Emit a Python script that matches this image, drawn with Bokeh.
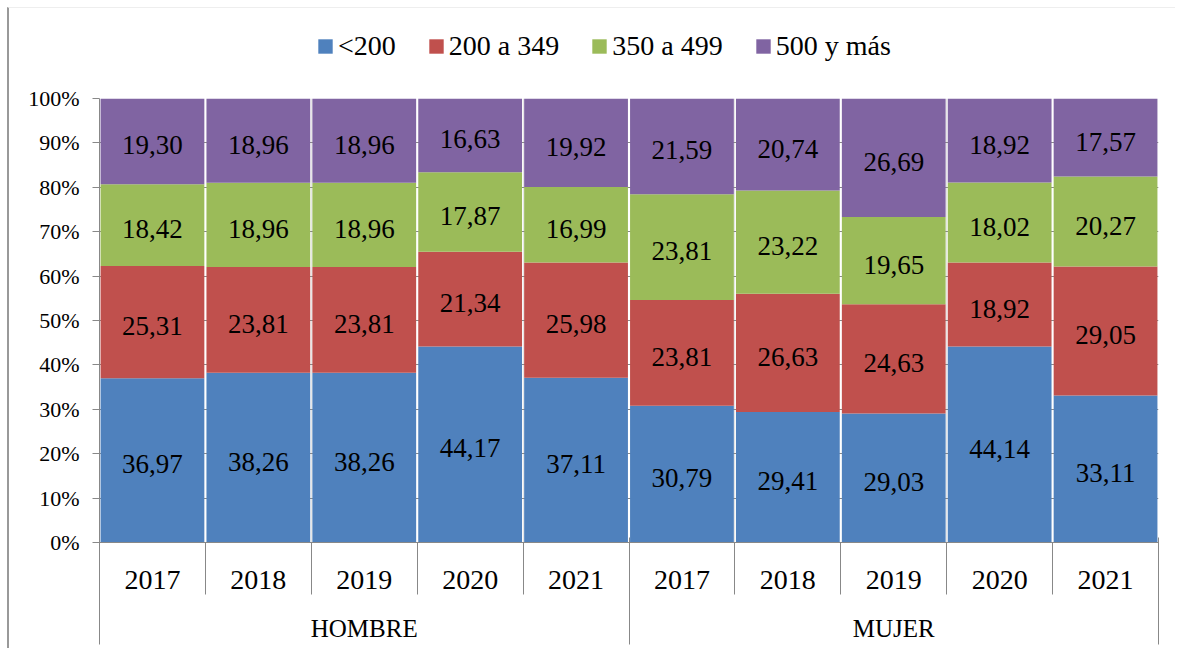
from bokeh.plotting import figure
from bokeh.layouts import column
from bokeh.models import (Range1d, FixedTicker, LinearAxis, Legend, LegendItem,
                          PrintfTickFormatter, ColumnDataSource, Grid)
from bokeh.core.properties import value
from bokeh.embed import file_html
from bokeh.resources import INLINE

# ---------------- data ----------------
groups = ["HOMBRE", "MUJER"]
years = ["2017", "2018", "2019", "2020", "2021"]
series = ["<200", "200 a 349", "350 a 499", "500 y más"]
colors = ["#4F81BD", "#C0504D", "#9BBB59", "#8064A2"]

lt200 = [36.97, 38.26, 38.26, 44.17, 37.11, 30.79, 29.41, 29.03, 44.14, 33.11]
r200_349 = [25.31, 23.81, 23.81, 21.34, 25.98, 23.81, 26.63, 24.63, 18.92, 29.05]
r350_499 = [18.42, 18.96, 18.96, 17.87, 16.99, 23.81, 23.22, 19.65, 18.02, 20.27]
r500 = [19.30, 18.96, 18.96, 16.63, 19.92, 21.59, 20.74, 26.69, 18.92, 17.57]

y_ticks = [0, 10, 20, 30, 40, 50, 60, 70, 80, 90, 100]

# ---------------- derived ----------------
values = [lt200, r200_349, r350_499, r500]
keys = ["s0", "s1", "s2", "s3"]
n = len(groups) * len(years)
xs = [i + 0.5 for i in range(n)]
year_labels = [y for g in groups for y in years]
bounds = list(range(n + 1))
group_centers = [g * len(years) + len(years) / 2 for g in range(len(groups))]
group_bounds = [g * len(years) for g in range(len(groups) + 1)]

data = {"x": xs}
for k, v in zip(keys, values):
    data[k] = v
source = ColumnDataSource(data)

lx, ly, lt = [], [], []
for i in range(n):
    bottom = 0.0
    for v in values:
        lx.append(xs[i])
        ly.append(bottom + v[i] / 2)
        lt.append(f"{v[i]:.2f}".replace(".", ","))
        bottom += v[i]
label_source = ColumnDataSource(dict(x=lx, y=ly, t=lt))

FONT = "Liberation Serif"
GRAY = "#888888"
W = 1166
TOP_H = 76
BL, BR = 90, 17

# ---------------- legend strip (bars kept far below the view; only the legend shows) ----------------
top = figure(width=W, height=TOP_H, output_backend="svg", toolbar_location=None,
             x_axis_location=None, y_axis_location=None,
             min_border_left=BL, min_border_right=BR, min_border_top=0, min_border_bottom=0,
             x_range=Range1d(0, n), y_range=Range1d(1000, 1100))
top.outline_line_color = None
top.xgrid.visible = False
top.ygrid.visible = False
legend_r = top.vbar_stack(keys, x="x", width=0.98, color=colors, line_color=None, source=source)
legend = Legend(items=[LegendItem(label=s, renderers=[r]) for s, r in zip(series, legend_r)],
                orientation="horizontal", location=(217, 22),
                glyph_width=18, glyph_height=18, label_standoff=4, spacing=31,
                padding=0, margin=0, border_line_color=None, background_fill_alpha=0,
                label_text_font=FONT, label_text_font_size="28px", label_text_color="black")
top.add_layout(legend, "center")

# ---------------- main chart ----------------
p = figure(width=W, height=640 - TOP_H, x_range=Range1d(0, n), y_range=Range1d(0, 100),
           output_backend="svg", toolbar_location=None,
           x_axis_location=None, y_axis_location=None,
           min_border_left=BL, min_border_right=BR, min_border_top=14, min_border_bottom=106)
p.outline_line_color = None
p.background_fill_color = "white"

yticker = FixedTicker(ticks=y_ticks)
yaxis = LinearAxis(ticker=yticker, formatter=PrintfTickFormatter(format="%d%%"),
                   axis_line_color=GRAY, major_tick_line_color=GRAY,
                   major_tick_out=7, major_tick_in=0, minor_tick_line_color=None,
                   major_label_standoff=13,
                   major_label_text_font=FONT, major_label_text_font_size="22px",
                   major_label_text_color="black")
p.add_layout(yaxis, "left")
p.add_layout(Grid(dimension=1, ticker=yticker, grid_line_color=GRAY, grid_line_width=1))

p.vbar_stack(keys, x="x", width=0.98, color=colors, line_color=None, source=source)

p.text(x="x", y="y", text="t", source=label_source, text_align="center",
       text_baseline="middle", text_font=value(FONT), text_font_size="27px",
       text_color="black", y_offset=4)

xaxis1 = LinearAxis(ticker=FixedTicker(ticks=xs, minor_ticks=bounds),
                    major_label_overrides={x: yl for x, yl in zip(xs, year_labels)},
                    axis_line_color=GRAY, major_tick_out=0, major_tick_in=0,
                    minor_tick_line_color=GRAY, minor_tick_out=52, minor_tick_in=0,
                    major_label_standoff=-24,
                    major_label_text_font=FONT, major_label_text_font_size="28px",
                    major_label_text_color="black")
p.add_layout(xaxis1, "below")

xaxis2 = LinearAxis(ticker=FixedTicker(ticks=group_centers, minor_ticks=group_bounds),
                    major_label_overrides={x: g for x, g in zip(group_centers, groups)},
                    axis_line_color=None, major_tick_out=0, major_tick_in=0,
                    minor_tick_line_color=GRAY, minor_tick_out=53, minor_tick_in=54,
                    major_label_standoff=-30,
                    major_label_text_font=FONT, major_label_text_font_size="25px",
                    major_label_text_color="black")
p.add_layout(xaxis2, "below")

layout = column(top, p, spacing=0)
layout.styles = {"border-left": "2px solid #999999", "border-top": "1px solid #eeeeee",
                 "margin-left": "7px", "margin-top": "7px"}

open("out.html", "w").write(file_html(layout, INLINE))
